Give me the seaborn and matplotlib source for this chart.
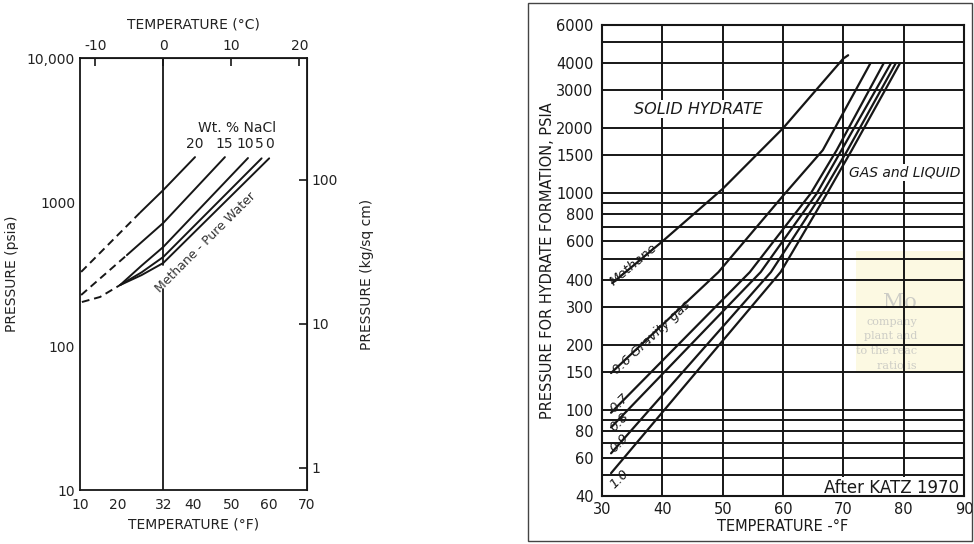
import numpy as np
import pandas as pd
import matplotlib
matplotlib.use("Agg")
import matplotlib.pyplot as plt
import seaborn as sns
from matplotlib.patches import Rectangle

sns.set_style("white")
plt.rcParams['font.family'] = ['DejaVu Sans']

# ---------------- left panel data: methane hydrate with NaCl brines ----------------
nacl_labels = ["20", "15", "10", "5", "0"]
t20_dash = [10.3, 26.0]
p20_dash = [327, 850]
t20 = [26.0, 32.0, 40.4]
p20 = [850, 1210, 2050]
t15_dash = [10.3, 22.4]
p15_dash = [226, 428]
t15 = [22.4, 32.0, 48.3]
p15 = [428, 715, 2050]
t10 = [20.6, 26.3, 32.0, 54.4]
p10 = [265, 362, 487, 2020]
t5 = [20.6, 26.3, 32.0, 58.0]
p5 = [265, 325, 415, 2010]
t0 = [20.6, 26.3, 32.0, 60.0]
p0 = [265, 311, 377, 2010]
tlow_dash = [10.5, 15.3, 20.6]
plow_dash = [202, 219, 265]

left_xticks = [10, 20, 32, 40, 50, 60, 70]
left_yticks = [10, 100, 1000, 10000]
left_yticklabels = ["10", "100", "1000", "10,000"]
top_ticks = [-10, 0, 10, 20]
right_ticks = [1, 10, 100]

# ---------------- right panel data: Katz gas gravity chart ----------------
methane_t = [31.7, 40, 50, 60, 70, 70.8]
methane_p = [385, 600, 1050, 2000, 4200, 4350]
g06_t = [31.5, 49.3, 60.0, 66.6, 74.5]
g06_p = [148, 433, 975, 1585, 4000]
g07_t = [31.5, 54.5, 64.6, 68.9, 76.7]
g07_p = [97, 433, 1000, 1585, 4000]
g08_t = [31.5, 56.3, 65.6, 69.7, 77.9]
g08_p = [83, 433, 1000, 1585, 4000]
g09_t = [31.5, 58.0, 66.5, 70.7, 78.7]
g09_p = [63, 433, 1000, 1585, 4000]
g10_t = [31.5, 59.6, 67.3, 71.4, 79.4]
g10_p = [51, 433, 1000, 1585, 4000]

right_xticks = [30, 40, 50, 60, 70, 80, 90]
right_grid_p = [40, 50, 60, 70, 80, 90, 100, 150, 200, 300, 400, 500, 600, 700,
                800, 900, 1000, 1500, 2000, 3000, 4000, 5000, 6000]
right_labeled_p = [40, 60, 80, 100, 150, 200, 300, 400, 600, 800, 1000, 1500,
                   2000, 3000, 4000, 6000]

INK = "#161616"

fig = plt.figure(figsize=(9.74, 5.44), dpi=100)
W, H = 974, 544


def ax_rect(l, t, r, b):
    return [l / W, 1 - b / H, (r - l) / W, (b - t) / H]


def line(ax, t, p, ls="-", lw=1.4):
    df = pd.DataFrame({"T": t, "P": p})
    sns.lineplot(data=df, x="T", y="P", ax=ax, color=INK, linewidth=lw,
                 linestyle=ls, sort=False, estimator=None, legend=False,
                 zorder=3)


# =============================== LEFT PANEL ===============================
ax1 = fig.add_axes(ax_rect(80, 58, 307, 490))
ax1.set_yscale("log")
ax1.set_xlim(10, 70)
ax1.set_ylim(10, 10000)

dash = (0, (4, 2.5))
line(ax1, t20_dash, p20_dash, ls=dash)
line(ax1, t20, p20)
line(ax1, t15_dash, p15_dash, ls=dash)
line(ax1, t15, p15)
line(ax1, tlow_dash, plow_dash, ls=dash)
line(ax1, t10, p10)
line(ax1, t5, p5)
line(ax1, t0, p0)

# 32 F (0 C) vertical line, interrupted by the label
ax1.axvline(32, ymin=0, ymax=0.465, color=INK, lw=1.3)
ax1.axvline(32, ymin=0.52, ymax=1, color=INK, lw=1.3)

for s in ax1.spines.values():
    s.set_color(INK)
    s.set_linewidth(1.3)

ax1.set_xticks(left_xticks)
ax1.set_xticklabels([str(v) for v in left_xticks])
ax1.set_yticks(left_yticks)
ax1.set_yticklabels(left_yticklabels)
ax1.yaxis.set_minor_locator(matplotlib.ticker.NullLocator())
ax1.tick_params(axis="both", which="major", direction="in", length=6,
                width=1.2, color=INK, labelsize=10, labelcolor="#222")
ax1.tick_params(axis="x", pad=6)
ax1.set_xlabel("TEMPERATURE (°F)", fontsize=10, color="#222", labelpad=4)
ax1.set_ylabel("PRESSURE (psia)", fontsize=10, color="#222", labelpad=6)

top = ax1.secondary_xaxis("top", functions=(lambda f: (f - 32) * 5 / 9,
                                            lambda c: c * 9 / 5 + 32))
top.set_xticks(top_ticks)
top.set_xticklabels([str(v) for v in top_ticks])
top.tick_params(direction="in", length=6, width=1.2, color=INK, labelsize=10,
                labelcolor="#222")
top.set_xlabel("TEMPERATURE (°C)", fontsize=10, color="#222", labelpad=8)

right = ax1.secondary_yaxis("right", functions=(lambda p: p / 14.223,
                                                lambda k: k * 14.223))
right.set_yticks(right_ticks)
right.set_yticklabels([str(v) for v in right_ticks])
right.yaxis.set_minor_locator(matplotlib.ticker.NullLocator())
right.tick_params(direction="in", length=6, width=1.2, color=INK,
                  labelsize=10, labelcolor="#222")
right.set_ylabel("PRESSURE (kg/sq cm)", fontsize=10, color="#222", labelpad=16)

ax1.text(51.5, 3050, "Wt. % NaCl", fontsize=10, color="#222", ha="center")
for lab, tx in zip(nacl_labels, [40.2, 48.2, 53.6, 57.3, 60.0]):
    ax1.text(tx, 2250, lab, fontsize=10, color="#222", ha="center", va="bottom")
ax1.text(43.3, 520, "Methane - Pure Water", fontsize=9, color="#333",
         rotation=45, ha="center", va="center", rotation_mode="anchor")

# =============================== RIGHT PANEL ===============================
ax2 = fig.add_axes(ax_rect(602, 25, 964, 496))
ax2.set_yscale("log")
ax2.set_xlim(30, 90)
ax2.set_ylim(40, 6000)

# faint bleed-through from the back of the page (behind the grid)
ax2.add_patch(Rectangle((0.703, 0.262), 0.297, 0.52 - 0.262,
                        transform=ax2.transAxes, fc="#fcf9e2", ec="none",
                        zorder=0.5))
for txt, yy, fs in [("Mo", 302, 15), ("company", 322, 8), ("plant and", 336, 8),
                    ("to the reac", 351, 8), ("ratio is", 366, 8)]:
    ax2.text((917 - 602) / 362, (496 - yy) / 471, txt, fontsize=fs,
             color="#cdcdc6", family="DejaVu Serif", ha="right", va="center",
             transform=ax2.transAxes, zorder=0.6)

for v in right_xticks[1:-1]:
    ax2.axvline(v, color=INK, lw=1.4, zorder=1)
for v in right_grid_p[1:-1]:
    ax2.axhline(v, color=INK, lw=1.4, zorder=1)

line(ax2, methane_t, methane_p, lw=1.6)
line(ax2, g06_t, g06_p, lw=1.6)
line(ax2, g07_t, g07_p, lw=1.6)
line(ax2, g08_t, g08_p, lw=1.6)
line(ax2, g09_t, g09_p, lw=1.6)
line(ax2, g10_t, g10_p, lw=1.6)

for s in ax2.spines.values():
    s.set_color(INK)
    s.set_linewidth(1.5)
    s.set_zorder(6)

ax2.set_xticks(right_xticks)
ax2.set_xticklabels([str(v) for v in right_xticks])
ax2.set_yticks(right_grid_p)
ax2.set_yticklabels([str(v) if v in right_labeled_p else "" for v in right_grid_p])
ax2.yaxis.set_minor_locator(matplotlib.ticker.NullLocator())
ax2.tick_params(axis="y", direction="out", length=4, width=1.2, color=INK,
                labelsize=10.5, labelcolor="#1a1a1a", pad=2)
ax2.tick_params(axis="x", direction="out", length=0, labelsize=10.5,
                labelcolor="#1a1a1a", pad=4)
ax2.set_xlabel("TEMPERATURE -°F", fontsize=10.5, color="#1a1a1a", labelpad=2)
ax2.set_ylabel("PRESSURE FOR HYDRATE FORMATION, PSIA", fontsize=10.5,
               color="#1a1a1a", labelpad=1)

ax2.text(46.0, 2450, "SOLID HYDRATE", fontsize=11.5, style="italic",
         color="#1a1a1a", ha="center", va="center", zorder=4,
         bbox=dict(fc="white", ec="none", pad=1))
ax2.text(80.2, 1250, "GAS and LIQUID", fontsize=10, style="italic",
         color="#1a1a1a", ha="center", va="center", zorder=4,
         bbox=dict(fc="white", ec="none", pad=1))
ax2.text(89.2, 43.6, "After KATZ 1970", fontsize=12, color="#1a1a1a",
         ha="right", va="center", zorder=4,
         bbox=dict(fc="white", ec="none", pad=1.5))
ax2.text(35.2, 470, "Methane", fontsize=9.5, style="italic", color="#1a1a1a",
         rotation=40, ha="center", va="center", zorder=4)
ax2.text(38.3, 215, "0.6 Gravity gas", fontsize=9.5, style="italic",
         color="#1a1a1a", rotation=43, ha="center", va="center", zorder=4)
for lab, yv in zip(["0.7", "0.8", "0.9", "1.0"], [108, 88, 70, 48]):
    ax2.text(32.8, yv, lab, fontsize=9.5, style="italic", color="#1a1a1a",
             rotation=45, ha="center", va="center", zorder=4)

# outer frame of the right-hand figure
fig.patches.append(Rectangle((528 / W, 1 - 541 / H), 444 / W, 538 / H,
                             transform=fig.transFigure, fill=False,
                             ec="#444444", lw=1.0))

fig.savefig("out.png", dpi=100, facecolor="white")
